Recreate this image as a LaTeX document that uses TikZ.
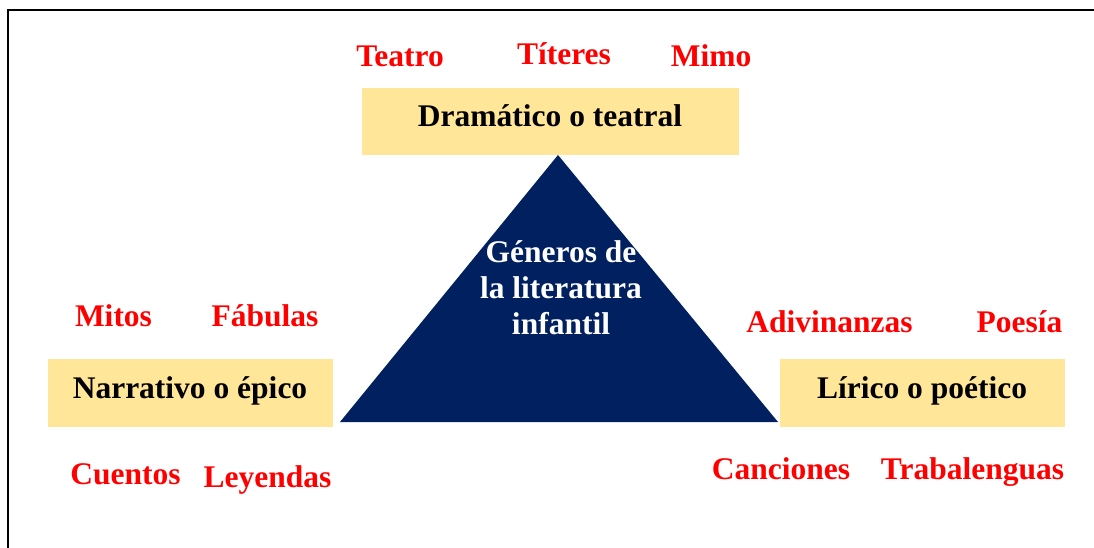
\documentclass[tikz,border=0pt]{standalone}
\usepackage[table,dvipsnames]{xcolor}
\usepackage{fontspec}
\setmainfont{Liberation Serif}
\usepackage{tikz}
\usetikzlibrary{calc}
\definecolor{NavyTri}{HTML}{002060}
\definecolor{BoxYellow}{HTML}{FFE699}
\tikzset{
    genre/.style={
    anchor=base,
    inner sep=0pt,
    font=\fontsize{31.5}{36}\selectfont\bfseries
    },
    kind/.style={
    genre,
    text=red
    }
}

\begin{document}
\begin{tikzpicture}[x=1pt,y=-1pt]
\useasboundingbox (0,0) rectangle (1094,548);
\draw[black, line width=1.8pt] (8,548) -- (8,10) -- (1094,10);
\coordinate (T) at (558,155);
\coordinate (L) at (340,422);
\coordinate (R) at (778,422);
\fill[NavyTri] (T) -- (L) -- (R) -- cycle;
\node[inner sep=0pt, align=center, text=white, font=\fontsize{31.5}{36}\selectfont\bfseries] (center) at (561,287.5) {Géneros de\\la literatura\\infantil};
\fill[BoxYellow] (362,88) rectangle (739,155);
\fill[BoxYellow] (48,359) rectangle (333,427);
\fill[BoxYellow] (780,359) rectangle (1065,427);
\node[genre] (drama) at (550,127) {Dramático o teatral};
\node[genre] (narra) at (190,398) {Narrativo o épico};
\node[genre] (lirico) at (922,398) {Lírico o poético};
\node[kind] (teatro) at (400,67) {Teatro};
\node[kind] (titeres) at (564,65) {Títeres};
\node[kind] (mimo) at (711,67) {Mimo};
\node[kind] (mitos) at (113.5,326) {Mitos};
\node[kind] (fabulas) at (265,326) {Fábulas};
\node[kind] (cuentos) at (125.5,484) {Cuentos};
\node[kind] (leyendas) at (267.5,487) {Leyendas};
\node[kind] (adivinanzas) at (829.5,332) {Adivinanzas};
\node[kind] (poesia) at (1019.5,332) {Poesía};
\node[kind] (canciones) at (781,479) {Canciones};
\node[kind] (trabalenguas) at (972.5,479) {Trabalenguas};
\end{tikzpicture}
\end{document}
